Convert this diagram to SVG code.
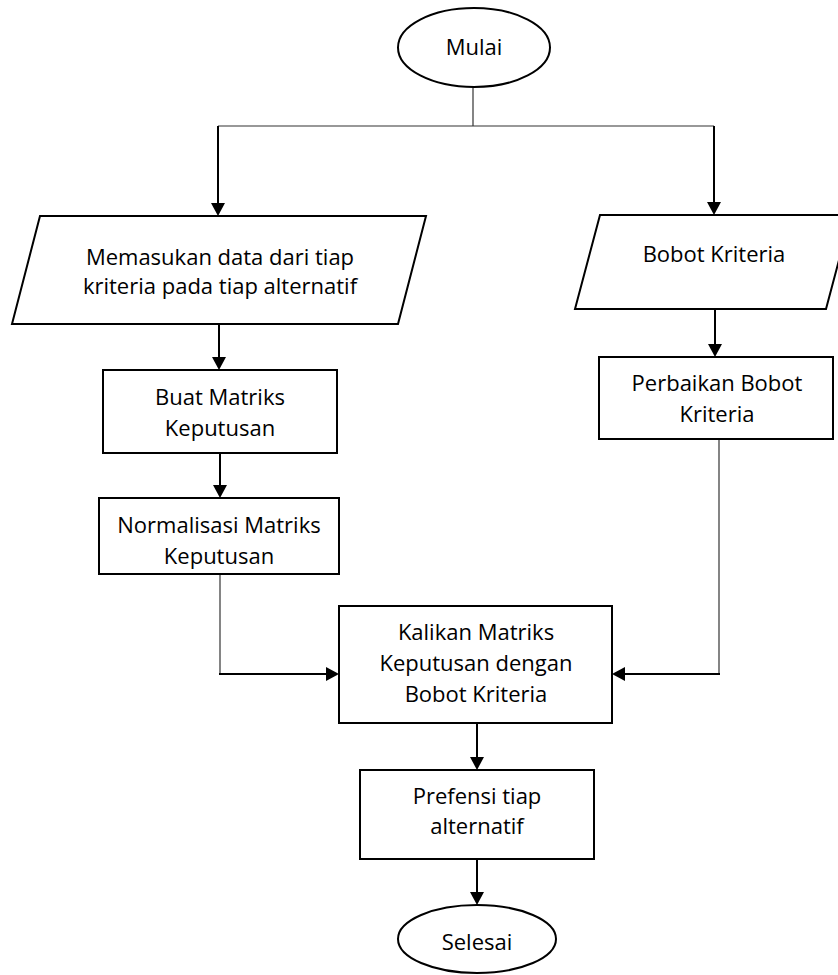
<svg xmlns="http://www.w3.org/2000/svg" width="838" height="975" viewBox="0 0 838 975">
  <style>
    .shape { fill: #ffffff; stroke: #000000; stroke-width: 2; }
    .label { font-family: "Open Sans", "Liberation Sans", sans-serif; font-size: 22px; fill: #000000; text-anchor: middle; }
    .thin { fill: none; stroke: #333333; stroke-width: 1.2; }
    .flow { fill: none; stroke: #000000; stroke-width: 2; marker-end: url(#arrow); }
  </style>
  <defs>
    <marker id="arrow" viewBox="0 0 13 14" refX="9" refY="7" markerWidth="13" markerHeight="14" markerUnits="userSpaceOnUse" orient="auto">
      <path d="M0,0 L13,7 L0,14 z" fill="#000000"/>
    </marker>
  </defs>
  <rect width="838" height="975" fill="#ffffff"/>

  <!-- connectors -->
  <g id="connectors">
    <path class="thin" d="M473,87 V126"/>
    <path class="thin" d="M218,126 H714"/>
    <path class="flow" d="M218,126 V212"/>
    <path class="flow" d="M714,126 V211"/>
    <path class="flow" d="M219,324 V366"/>
    <path class="flow" d="M715,309 V353"/>
    <path class="flow" d="M220,453 V494"/>
    <path class="thin" d="M220,574 V674"/>
    <path class="flow" d="M219,674 H335"/>
    <path class="thin" d="M719,439 V674"/>
    <path class="flow" d="M720,674 H616"/>
    <path class="flow" d="M477,723 V766"/>
    <path class="flow" d="M477,859 V901"/>
  </g>

  <!-- nodes -->
  <g id="mulai">
    <ellipse class="shape" cx="474" cy="47.5" rx="76" ry="39.5"/>
    <text class="label" x="474" y="55">Mulai</text>
  </g>

  <g id="input-data">
    <polygon class="shape" points="40,216 426,216 398,324 12,324"/>
    <text class="label" x="220" y="265">Memasukan data dari tiap</text>
    <text class="label" x="220" y="294">kriteria pada tiap alternatif</text>
  </g>

  <g id="input-bobot">
    <polygon class="shape" points="600,215 851,215 826,309 575,309"/>
    <text class="label" x="714" y="262">Bobot Kriteria</text>
  </g>

  <g id="buat-matriks">
    <rect class="shape" x="103" y="370" width="234" height="83"/>
    <text class="label" x="220" y="405">Buat Matriks</text>
    <text class="label" x="220" y="436">Keputusan</text>
  </g>

  <g id="normalisasi">
    <rect class="shape" x="99" y="498" width="240" height="76"/>
    <text class="label" x="219" y="533">Normalisasi Matriks</text>
    <text class="label" x="219" y="564">Keputusan</text>
  </g>

  <g id="perbaikan-bobot">
    <rect class="shape" x="599" y="357" width="234" height="82"/>
    <text class="label" x="717" y="391">Perbaikan Bobot</text>
    <text class="label" x="717" y="422">Kriteria</text>
  </g>

  <g id="kalikan">
    <rect class="shape" x="339" y="606" width="273" height="117"/>
    <text class="label" x="476" y="640">Kalikan Matriks</text>
    <text class="label" x="476" y="671">Keputusan dengan</text>
    <text class="label" x="476" y="702">Bobot Kriteria</text>
  </g>

  <g id="prefensi">
    <rect class="shape" x="360" y="770" width="234" height="89"/>
    <text class="label" x="477" y="804">Prefensi tiap</text>
    <text class="label" x="477" y="834">alternatif</text>
  </g>

  <g id="selesai">
    <ellipse class="shape" cx="477" cy="939" rx="79" ry="34"/>
    <text class="label" x="477" y="950">Selesai</text>
  </g>
</svg>
